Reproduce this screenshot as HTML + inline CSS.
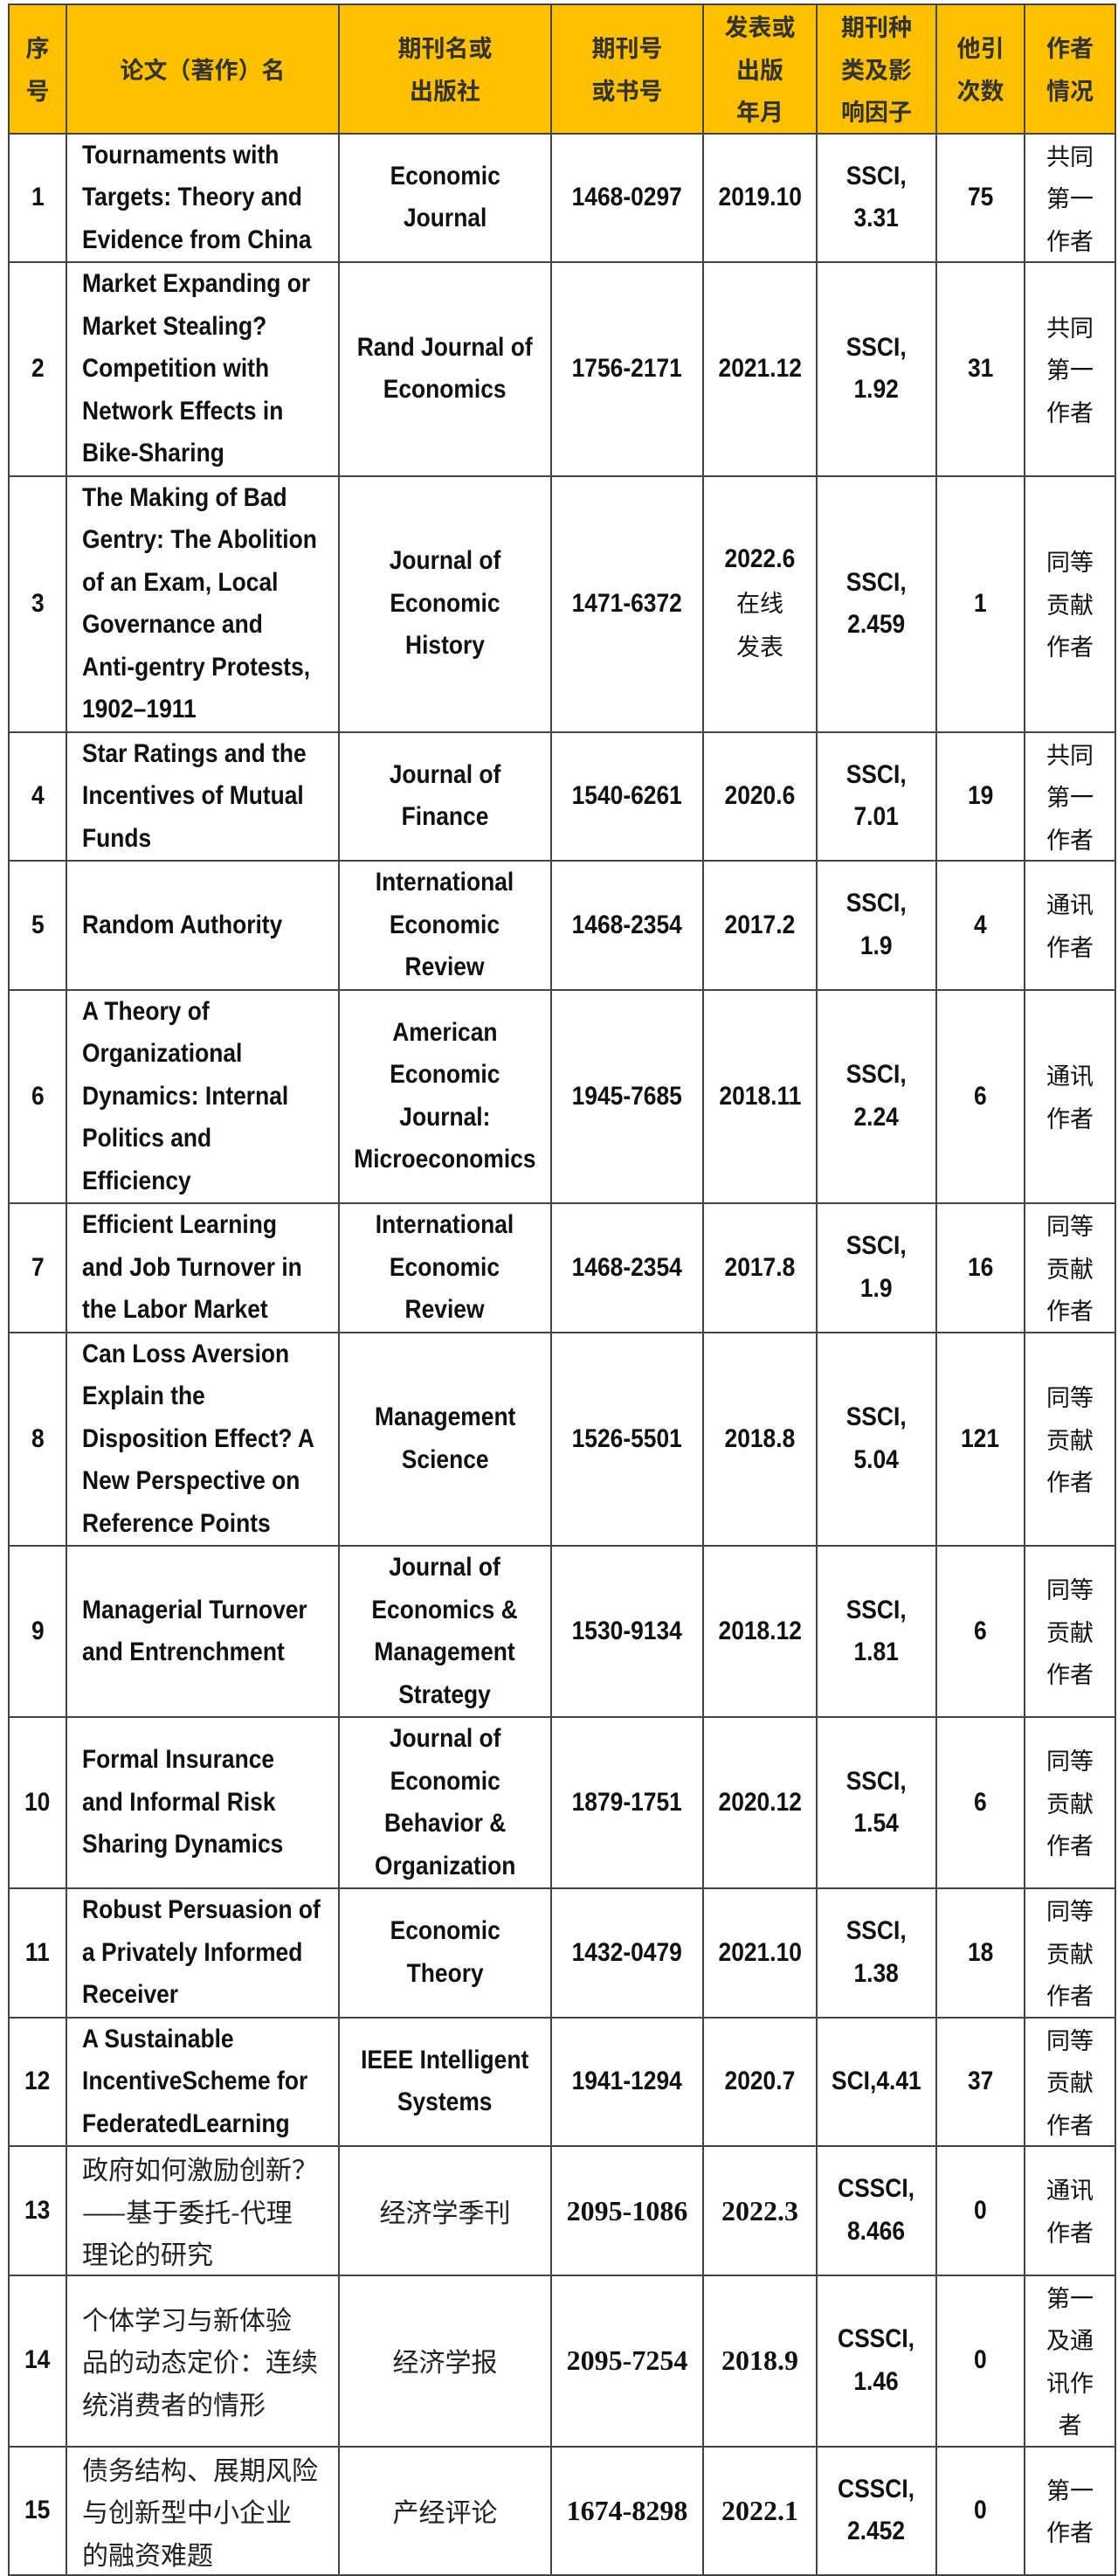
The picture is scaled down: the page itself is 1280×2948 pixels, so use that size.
<!DOCTYPE html>
<html><head><meta charset="utf-8"><style>
body{margin:0;background:#fff;width:1280px;height:2934px;overflow:hidden}
table{position:absolute;left:9px;top:4px;width:1267px;border-collapse:collapse;table-layout:fixed;font-family:"Liberation Sans","Noto Sans CJK SC",sans-serif;font-weight:bold;font-size:30px;color:#111}
td{border:2px solid #444;text-align:center;vertical-align:middle;line-height:48.5px;padding:0;overflow:hidden;white-space:nowrap}
td.t{text-align:left;padding-left:17px}
tr.h td{background:#FFC000;color:#333;font-family:"Noto Sans CJK SC",sans-serif;font-size:27px;font-weight:bold}
.n{display:inline-block;transform:scaleX(.88);transform-origin:center}
.t .n{transform-origin:left}
.cj{font-family:"Noto Sans CJK SC",sans-serif;font-weight:normal;font-size:30px;color:#222}
.sv{font-family:"Liberation Serif",serif;font-weight:bold;font-size:32px}
.a{font-family:"Noto Sans CJK SC",sans-serif;font-weight:normal;font-size:27px}
.r3{height:146px}.r4{height:195px}.r5{height:244px}.r6{height:292px}
</style></head><body>
<table>
<colgroup><col style="width:66px"><col style="width:312px"><col style="width:243px"><col style="width:174px"><col style="width:130px"><col style="width:137px"><col style="width:101px"><col style="width:104px"></colgroup>
<tr class="h r3"><td>序<br>号</td><td>论文（著作）名</td><td>期刊名或<br>出版社</td><td>期刊号<br>或书号</td><td>发表或<br>出版<br>年月</td><td>期刊种<br>类及影<br>响因子</td><td>他引<br>次数</td><td>作者<br>情况</td></tr>
<tr class="r3"><td><span class="n">1</span></td><td class="t"><span class="n">Tournaments with<br>Targets: Theory and<br>Evidence from China</span></td><td><span class="n">Economic<br>Journal</span></td><td><span class="n">1468-0297</span></td><td><span class="n">2019.10</span></td><td><span class="n">SSCI,<br>3.31</span></td><td><span class="n">75</span></td><td class="a">共同<br>第一<br>作者</td></tr>
<tr class="r5"><td><span class="n">2</span></td><td class="t"><span class="n">Market Expanding or<br>Market Stealing?<br>Competition with<br>Network Effects in<br>Bike-Sharing</span></td><td><span class="n">Rand Journal of<br>Economics</span></td><td><span class="n">1756-2171</span></td><td><span class="n">2021.12</span></td><td><span class="n">SSCI,<br>1.92</span></td><td><span class="n">31</span></td><td class="a">共同<br>第一<br>作者</td></tr>
<tr class="r6"><td><span class="n">3</span></td><td class="t"><span class="n">The Making of Bad<br>Gentry: The Abolition<br>of an Exam, Local<br>Governance and<br>Anti-gentry Protests,<br>1902–1911</span></td><td><span class="n">Journal of<br>Economic<br>History</span></td><td><span class="n">1471-6372</span></td><td><span class="n">2022.6</span><br><span class="a">在线<br>发表</span></td><td><span class="n">SSCI,<br>2.459</span></td><td><span class="n">1</span></td><td class="a">同等<br>贡献<br>作者</td></tr>
<tr class="r3"><td><span class="n">4</span></td><td class="t"><span class="n">Star Ratings and the<br>Incentives of Mutual<br>Funds</span></td><td><span class="n">Journal of<br>Finance</span></td><td><span class="n">1540-6261</span></td><td><span class="n">2020.6</span></td><td><span class="n">SSCI,<br>7.01</span></td><td><span class="n">19</span></td><td class="a">共同<br>第一<br>作者</td></tr>
<tr class="r3"><td><span class="n">5</span></td><td class="t"><span class="n">Random Authority</span></td><td><span class="n">International<br>Economic<br>Review</span></td><td><span class="n">1468-2354</span></td><td><span class="n">2017.2</span></td><td><span class="n">SSCI,<br>1.9</span></td><td><span class="n">4</span></td><td class="a">通讯<br>作者</td></tr>
<tr class="r5"><td><span class="n">6</span></td><td class="t"><span class="n">A Theory of<br>Organizational<br>Dynamics: Internal<br>Politics and<br>Efficiency</span></td><td><span class="n">American<br>Economic<br>Journal:<br>Microeconomics</span></td><td><span class="n">1945-7685</span></td><td><span class="n">2018.11</span></td><td><span class="n">SSCI,<br>2.24</span></td><td><span class="n">6</span></td><td class="a">通讯<br>作者</td></tr>
<tr class="r3"><td><span class="n">7</span></td><td class="t"><span class="n">Efficient Learning<br>and Job Turnover in<br>the Labor Market</span></td><td><span class="n">International<br>Economic<br>Review</span></td><td><span class="n">1468-2354</span></td><td><span class="n">2017.8</span></td><td><span class="n">SSCI,<br>1.9</span></td><td><span class="n">16</span></td><td class="a">同等<br>贡献<br>作者</td></tr>
<tr class="r5"><td><span class="n">8</span></td><td class="t"><span class="n">Can Loss Aversion<br>Explain the<br>Disposition Effect? A<br>New Perspective on<br>Reference Points</span></td><td><span class="n">Management<br>Science</span></td><td><span class="n">1526-5501</span></td><td><span class="n">2018.8</span></td><td><span class="n">SSCI,<br>5.04</span></td><td><span class="n">121</span></td><td class="a">同等<br>贡献<br>作者</td></tr>
<tr class="r4"><td><span class="n">9</span></td><td class="t"><span class="n">Managerial Turnover<br>and Entrenchment</span></td><td><span class="n">Journal of<br>Economics &amp;<br>Management<br>Strategy</span></td><td><span class="n">1530-9134</span></td><td><span class="n">2018.12</span></td><td><span class="n">SSCI,<br>1.81</span></td><td><span class="n">6</span></td><td class="a">同等<br>贡献<br>作者</td></tr>
<tr class="r4"><td><span class="n">10</span></td><td class="t"><span class="n">Formal Insurance<br>and Informal Risk<br>Sharing Dynamics</span></td><td><span class="n">Journal of<br>Economic<br>Behavior &amp;<br>Organization</span></td><td><span class="n">1879-1751</span></td><td><span class="n">2020.12</span></td><td><span class="n">SSCI,<br>1.54</span></td><td><span class="n">6</span></td><td class="a">同等<br>贡献<br>作者</td></tr>
<tr class="r3"><td><span class="n">11</span></td><td class="t"><span class="n">Robust Persuasion of<br>a Privately Informed<br>Receiver</span></td><td><span class="n">Economic<br>Theory</span></td><td><span class="n">1432-0479</span></td><td><span class="n">2021.10</span></td><td><span class="n">SSCI,<br>1.38</span></td><td><span class="n">18</span></td><td class="a">同等<br>贡献<br>作者</td></tr>
<tr class="r3"><td><span class="n">12</span></td><td class="t"><span class="n">A Sustainable<br>IncentiveScheme for<br>FederatedLearning</span></td><td><span class="n">IEEE Intelligent<br>Systems</span></td><td><span class="n">1941-1294</span></td><td><span class="n">2020.7</span></td><td><span class="n">SCI,4.41</span></td><td><span class="n">37</span></td><td class="a">同等<br>贡献<br>作者</td></tr>
<tr class="r3"><td><span class="n">13</span></td><td class="t cj">政府如何激励创新？<br>——基于委托-代理<br>理论的研究</td><td class="cj">经济学季刊</td><td class="sv">2095-1086</td><td class="sv">2022.3</td><td><span class="n">CSSCI,<br>8.466</span></td><td><span class="n">0</span></td><td class="a">通讯<br>作者</td></tr>
<tr class="r4"><td><span class="n">14</span></td><td class="t cj">个体学习与新体验<br>品的动态定价：连续<br>统消费者的情形</td><td class="cj">经济学报</td><td class="sv">2095-7254</td><td class="sv">2018.9</td><td><span class="n">CSSCI,<br>1.46</span></td><td><span class="n">0</span></td><td class="a">第一<br>及通<br>讯作<br>者</td></tr>
<tr class="r3"><td><span class="n">15</span></td><td class="t cj">债务结构、展期风险<br>与创新型中小企业<br>的融资难题</td><td class="cj">产经评论</td><td class="sv">1674-8298</td><td class="sv">2022.1</td><td><span class="n">CSSCI,<br>2.452</span></td><td><span class="n">0</span></td><td class="a">第一<br>作者</td></tr>
</table>
</body></html>
